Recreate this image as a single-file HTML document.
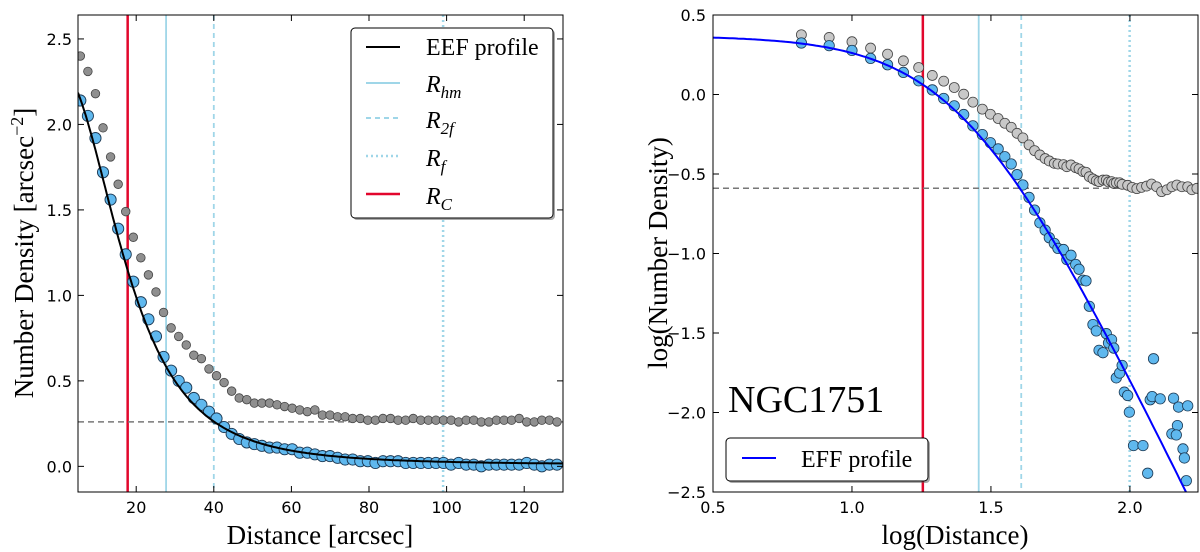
<!DOCTYPE html>
<html><head><meta charset="utf-8"><style>
html,body{margin:0;padding:0;background:#fff;}
svg{display:block;}
.tick{font-family:"DejaVu Sans","Liberation Sans",sans-serif;font-size:16px;fill:#000;}
.lab{font-family:"Liberation Serif","DejaVu Serif",serif;font-size:27px;fill:#000;}
.leg{font-family:"Liberation Serif","DejaVu Serif",serif;font-size:24px;fill:#000;}
</style></head><body>
<svg id="fig" width="1200" height="552" viewBox="0 0 1200 552" xmlns="http://www.w3.org/2000/svg"></svg>
<script>
// ---- Left panel data ----
const leftX = [5.6,7.55,9.5,11.45,13.4,15.35,17.3,19.25,21.2,23.15,25.1,27.05,29.0,30.95,32.9,34.85,36.8,38.75,40.7,42.65,44.6,46.55,48.5,50.45,52.4,54.35,56.3,58.25,60.2,62.15,64.1,66.05,68.0,69.95,71.9,73.85,75.8,77.75,79.7,81.65,83.6,85.55,87.5,89.45,91.4,93.35,95.3,97.25,99.2,101.15,103.1,105.05,107.0,108.95,110.9,112.85,114.8,116.75,118.7,120.65,122.6,124.55,126.5,128.45];
const leftBlue = [2.14,2.05,1.92,1.72,1.56,1.39,1.24,1.08,0.96,0.86,0.76,0.64,0.56,0.50,0.46,0.40,0.36,0.32,0.28,0.23,0.19,0.16,0.14,0.13,0.12,0.11,0.11,0.10,0.10,0.08,0.08,0.07,0.06,0.06,0.05,0.04,0.04,0.03,0.03,0.02,0.03,0.03,0.03,0.02,0.02,0.02,0.02,0.02,0.02,0.01,0.02,0.01,0.01,0.00,0.01,0.01,0.01,0.01,0.01,0.02,0.01,0.00,0.01,0.01];
const leftGray = [2.40,2.31,2.18,1.98,1.81,1.65,1.49,1.34,1.22,1.12,1.02,0.90,0.81,0.76,0.71,0.65,0.63,0.57,0.53,0.49,0.44,0.40,0.39,0.37,0.37,0.37,0.36,0.35,0.34,0.33,0.32,0.33,0.30,0.30,0.29,0.29,0.28,0.28,0.27,0.27,0.28,0.28,0.27,0.27,0.28,0.27,0.27,0.27,0.27,0.27,0.26,0.27,0.27,0.26,0.26,0.27,0.27,0.27,0.28,0.26,0.26,0.27,0.27,0.26];
const leftEEF = [2.33, 25, 3.5, 0.01]; // amplitude, scale radius, gamma, background
const leftBg = [0.26];
const leftRadii = [17.8, 27.7, 40.0, 99.1]; // Rc, Rhm, R2f, Rf
const leftXTicks = [20,40,60,80,100,120];
const leftYTicks = [0.0,0.5,1.0,1.5,2.0,2.5];
// ---- Right panel data ----
const rightBlueX = [0.818,0.918,1.0,1.067,1.128,1.185,1.24,1.289,1.33,1.368,1.402,1.435,1.469,1.498,1.526,1.55,1.573,1.594,1.615,1.637,1.657,1.676,1.695,1.71,1.728,1.741,1.761,1.773,1.788,1.805,1.817,1.831,1.842,1.854,1.867,1.879,1.889,1.903,1.915,1.923,1.934,1.942,1.951,1.963,1.972,1.98,1.992,1.998,2.013,2.047,2.064,2.073,2.08,2.085,2.109,2.157,2.171,2.175,2.151,2.167,2.191,2.196,2.208,2.203];
const rightBlueY = [0.324,0.307,0.277,0.227,0.187,0.139,0.086,0.029,-0.025,-0.071,-0.126,-0.197,-0.252,-0.303,-0.342,-0.391,-0.437,-0.504,-0.569,-0.647,-0.727,-0.807,-0.853,-0.901,-0.937,-0.968,-0.975,-1.038,-1.011,-1.069,-1.099,-1.168,-1.172,-1.332,-1.447,-1.487,-1.609,-1.624,-1.504,-1.563,-1.542,-1.595,-1.782,-1.752,-1.704,-1.872,-1.893,-1.998,-2.208,-2.208,-2.382,-1.92,-1.9,-1.662,-1.914,-1.91,-2.082,-1.966,-2.134,-2.141,-2.229,-2.286,-1.958,-2.429];
const rightGrayX = [0.818,0.918,1.0,1.067,1.128,1.185,1.24,1.289,1.33,1.368,1.402,1.435,1.469,1.498,1.526,1.55,1.573,1.594,1.615,1.637,1.657,1.676,1.695,1.71,1.728,1.741,1.761,1.773,1.788,1.805,1.817,1.831,1.842,1.854,1.867,1.879,1.889,1.903,1.915,1.923,1.934,1.942,1.951,1.963,1.972,1.992,2.008,2.025,2.042,2.06,2.078,2.096,2.114,2.133,2.151,2.169,2.187,2.208,2.223,2.241];
const rightGrayY = [0.376,0.359,0.332,0.292,0.254,0.212,0.17,0.12,0.084,0.044,0.002,-0.048,-0.092,-0.124,-0.151,-0.181,-0.206,-0.244,-0.273,-0.317,-0.353,-0.38,-0.403,-0.418,-0.433,-0.437,-0.441,-0.454,-0.443,-0.46,-0.468,-0.485,-0.489,-0.517,-0.531,-0.542,-0.548,-0.538,-0.538,-0.55,-0.548,-0.559,-0.555,-0.555,-0.565,-0.571,-0.584,-0.592,-0.584,-0.576,-0.563,-0.58,-0.611,-0.599,-0.58,-0.569,-0.58,-0.58,-0.599,-0.59];
const rightEFF = [2.34, 26, 3.62]; // amplitude, scale radius, gamma
const rightBg = [-0.59];
const rightRadii = [1.255, 1.456, 1.609, 1.999];
const rightXTicks = [0.5,1.0,1.5,2.0];
const rightYTicks = [0.5,0.0,-0.5,-1.0,-1.5,-2.0,-2.5];

const NS = "http://www.w3.org/2000/svg";
const svg = document.getElementById('fig');
function mk(tag, attrs, parent, text){
  const e = document.createElementNS(NS, tag);
  for (const k in attrs) e.setAttribute(k, attrs[k]);
  if (text !== undefined) e.textContent = text;
  (parent || svg).appendChild(e);
  return e;
}
function scale(d0,d1,p0,p1){ return v => p0 + (v-d0)/(d1-d0)*(p1-p0); }

// ===== LEFT PANEL =====
const L = {x0:78, x1:563, y0:15, y1:492};
const lx = scale(5, 130, L.x0, L.x1);
const ly = scale(-0.15, 2.64, L.y1, L.y0);
const gL = mk('g', {});


const clipL = mk('clipPath', {id:'clipL'}, svg);
mk('rect', {x:L.x0, y:L.y0, width:L.x1-L.x0, height:L.y1-L.y0}, clipL);
const plotL = mk('g', {'clip-path':'url(#clipL)'}, gL);

const radStyles = [
  {c:'#e2062c', w:2.5, d:''},
  {c:'#9fd6e8', w:1.8, d:''},
  {c:'#9fd6e8', w:1.8, d:'5,4'},
  {c:'#9fd6e8', w:2.5, d:'2,3'}
];
const radNames = ['rc-line','rhm-line','r2f-line','rf-line'];
leftRadii.forEach((r,i)=>{
  const l = mk('line', {x1:lx(r), x2:lx(r), y1:L.y0, y2:L.y1, stroke:radStyles[i].c, 'stroke-width':radStyles[i].w, 'stroke-dasharray':radStyles[i].d}, plotL);
  
  
});
const lbg = mk('line', {x1:L.x0, x2:L.x1, y1:ly(leftBg[0]), y2:ly(leftBg[0]), stroke:'#777', 'stroke-width':1.5, 'stroke-dasharray':'6,4'}, plotL);



leftX.forEach((x,i)=>{
  const c = mk('circle', {cx:lx(x), cy:ly(leftGray[i]), r:4.3, fill:'#8f8f8f', stroke:'#444', 'stroke-width':0.8}, plotL);
  
  
});
leftX.forEach((x,i)=>{
  const c = mk('circle', {cx:lx(x), cy:ly(leftBlue[i]), r:5.6, fill:'#5fb8ee', stroke:'#1d3a55', 'stroke-width':0.9}, plotL);
  
  
});
let pd = '';
for (let r = 5; r <= 130; r += 0.5) {
  const v = leftEEF[0]*Math.pow(1+(r/leftEEF[1])**2, -leftEEF[2]/2) + leftEEF[3];
  pd += (pd ? 'L' : 'M') + lx(r).toFixed(1) + ',' + ly(v).toFixed(1);
}
const lc = mk('path', {d:pd, fill:'none', stroke:'#000', 'stroke-width':2}, plotL);



mk('rect', {x:L.x0, y:L.y0, width:L.x1-L.x0, height:L.y1-L.y0, fill:'none', stroke:'#000', 'stroke-width':1}, gL);
leftXTicks.forEach(t=>{
  mk('line', {x1:lx(t), x2:lx(t), y1:L.y1, y2:L.y1-6, stroke:'#000'}, gL);
  mk('line', {x1:lx(t), x2:lx(t), y1:L.y0, y2:L.y0+6, stroke:'#000'}, gL);
  const tx = mk('text', {x:lx(t), y:L.y1+21, 'text-anchor':'middle', class:'tick'}, gL, String(t));
  
  
});
leftYTicks.forEach(t=>{
  mk('line', {x1:L.x0, x2:L.x0+6, y1:ly(t), y2:ly(t), stroke:'#000'}, gL);
  mk('line', {x1:L.x1, x2:L.x1-6, y1:ly(t), y2:ly(t), stroke:'#000'}, gL);
  const tx = mk('text', {x:L.x0-6, y:ly(t)+6, 'text-anchor':'end', class:'tick'}, gL, t.toFixed(1));
  
  
});

// ===== RIGHT PANEL =====
const R = {x0:713, x1:1198, y0:15, y1:492};
const rx = scale(0.5, 2.245, R.x0, R.x1);
const ry = scale(-2.5, 0.5, R.y1, R.y0);
const gR = mk('g', {});


const clipR = mk('clipPath', {id:'clipR'}, svg);
mk('rect', {x:R.x0, y:R.y0, width:R.x1-R.x0, height:R.y1-R.y0}, clipR);
const plotR = mk('g', {'clip-path':'url(#clipR)'}, gR);
rightRadii.forEach((r,i)=>{
  const l = mk('line', {x1:rx(r), x2:rx(r), y1:R.y0, y2:R.y1, stroke:radStyles[i].c, 'stroke-width':radStyles[i].w, 'stroke-dasharray':radStyles[i].d}, plotR);
  
  
});
const rbg = mk('line', {x1:R.x0, x2:R.x1, y1:ry(rightBg[0]), y2:ry(rightBg[0]), stroke:'#777', 'stroke-width':1.5, 'stroke-dasharray':'6,4'}, plotR);


rightGrayX.forEach((x,i)=>{
  const c = mk('circle', {cx:rx(x), cy:ry(rightGrayY[i]), r:5, fill:'#c8c8c8', stroke:'#444', 'stroke-width':0.8}, plotR);
  
  
});
rightBlueX.forEach((x,i)=>{
  const c = mk('circle', {cx:rx(x), cy:ry(rightBlueY[i]), r:5.2, fill:'#5fb8ee', stroke:'#1d3a55', 'stroke-width':0.8}, plotR);
  
  
});
pd = '';
for (let lr = 0.5; lr <= 2.25; lr += 0.01) {
  const r = Math.pow(10, lr);
  const v = Math.log10(rightEFF[0]*Math.pow(1+(r/rightEFF[1])**2, -rightEFF[2]/2));
  pd += (pd ? 'L' : 'M') + rx(lr).toFixed(1) + ',' + ry(v).toFixed(1);
}
const rc = mk('path', {d:pd, fill:'none', stroke:'#0000ff', 'stroke-width':2}, plotR);



mk('rect', {x:R.x0, y:R.y0, width:R.x1-R.x0, height:R.y1-R.y0, fill:'none', stroke:'#000', 'stroke-width':1}, gR);
rightXTicks.forEach(t=>{
  mk('line', {x1:rx(t), x2:rx(t), y1:R.y1, y2:R.y1-6, stroke:'#000'}, gR);
  mk('line', {x1:rx(t), x2:rx(t), y1:R.y0, y2:R.y0+6, stroke:'#000'}, gR);
  const tx = mk('text', {x:rx(t), y:R.y1+21, 'text-anchor':'middle', class:'tick'}, gR, t.toFixed(1));
  
  
});
rightYTicks.forEach(t=>{
  mk('line', {x1:R.x0, x2:R.x0+6, y1:ry(t), y2:ry(t), stroke:'#000'}, gR);
  mk('line', {x1:R.x1, x2:R.x1-6, y1:ry(t), y2:ry(t), stroke:'#000'}, gR);
  const tx = mk('text', {x:R.x0-7, y:ry(t)+6, 'text-anchor':'end', class:'tick'}, gR, t.toFixed(1).replace('-', '\u2212'));
  
  
});
</script>
<svg width="1200" height="552" style="position:absolute;left:0;top:0" xmlns="http://www.w3.org/2000/svg">
  <text class="lab" x="320" y="544" text-anchor="middle">Distance [arcsec]</text>
  <text class="lab" transform="translate(33,253) rotate(-90)" text-anchor="middle">Number Density [arcsec<tspan dy="-10" font-size="18">−2</tspan><tspan dy="10">]</tspan></text>
  <text class="lab" x="955" y="544" text-anchor="middle">log(Distance)</text>
  <text class="lab" transform="translate(667,253) rotate(-90)" text-anchor="middle">log(Number Density)</text>
  <text x="728" y="412" font-family="'Liberation Serif',serif" font-size="38">NGC1751</text>
  <g>
    <rect x="353" y="30" width="202" height="190" rx="4" fill="#555" opacity="0.5"/>
    <rect x="351" y="28" width="202" height="190" rx="4" fill="#fff" stroke="#000" stroke-width="1"/>
    <line x1="366" x2="400" y1="47" y2="47" stroke="#000" stroke-width="2"/>
    <text class="leg" x="426" y="55">EEF profile</text>
    <line x1="366" x2="400" y1="83" y2="83" stroke="#9fd6e8" stroke-width="2"/>
    <text class="leg" x="426" y="92" font-style="italic">R<tspan dy="6" font-size="17">hm</tspan></text>
    <line x1="366" x2="400" y1="118" y2="118" stroke="#9fd6e8" stroke-width="2" stroke-dasharray="5,4"/>
    <text class="leg" x="426" y="128" font-style="italic">R<tspan dy="6" font-size="17">2f</tspan></text>
    <line x1="366" x2="400" y1="156" y2="156" stroke="#9fd6e8" stroke-width="2.5" stroke-dasharray="2,3"/>
    <text class="leg" x="426" y="166" font-style="italic">R<tspan dy="6" font-size="17">f</tspan></text>
    <line x1="366" x2="400" y1="194" y2="194" stroke="#e2062c" stroke-width="2.5"/>
    <text class="leg" x="426" y="204" font-style="italic">R<tspan dy="6" font-size="17">C</tspan></text>
  </g>
  <g>
    <rect x="728" y="440" width="202" height="43" rx="4" fill="#555" opacity="0.5"/>
    <rect x="726" y="438" width="202" height="43" rx="4" fill="#fff" stroke="#000" stroke-width="1"/>
    <line x1="742" x2="776" y1="458" y2="458" stroke="#0000ff" stroke-width="2"/>
    <text class="leg" x="801" y="467">EFF profile</text>
  </g>
</svg>
</body></html>
